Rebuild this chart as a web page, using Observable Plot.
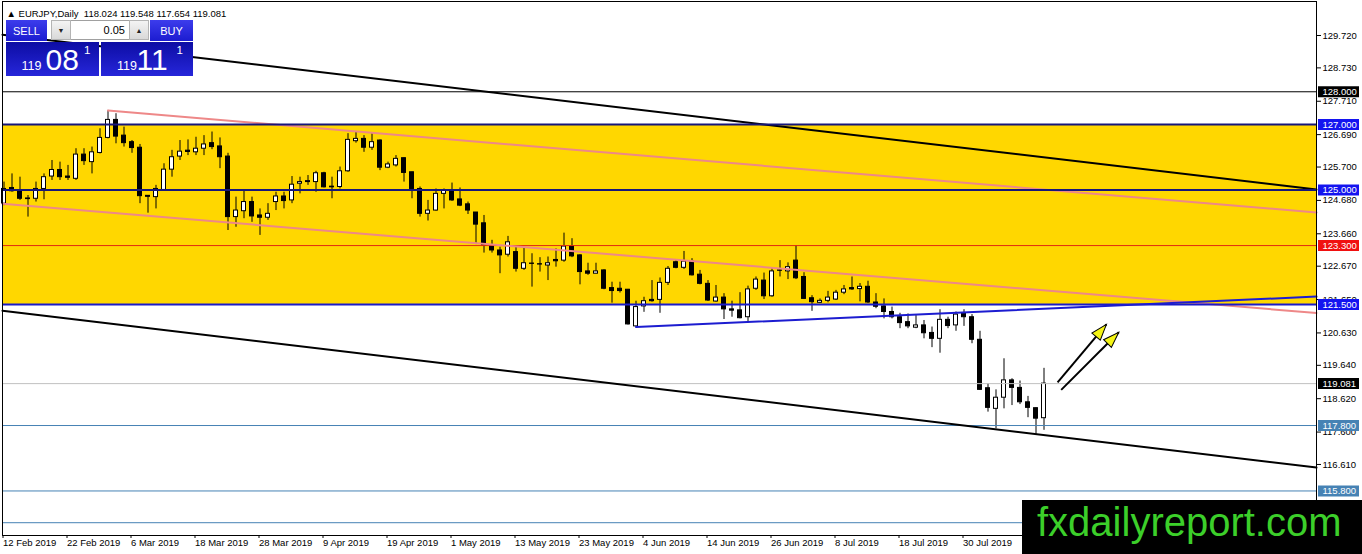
<!DOCTYPE html>
<html>
<head>
<meta charset="utf-8">
<script src="https://cdn.jsdelivr.net/npm/d3@7"></script>
<script src="https://cdn.jsdelivr.net/npm/@observablehq/plot@0.6"></script>
<style>
  body { margin: 0; background: #fff; }
  #wrap { position: relative; width: 1362px; height: 554px; overflow: hidden; background: #fff; }
  #wrap svg { position: absolute; left: 0; top: 0; }
  .ov { position: absolute; box-sizing: border-box; font-family: 'Liberation Sans', Arial, sans-serif; }
  .btn { background: linear-gradient(#3c3cec, #1c1cd0); color: #fff; font-size: 11px;
         display: flex; align-items: center; justify-content: center; }
  .price { background: linear-gradient(#0d0da4, #2626da); color: #fff; }
  .price span { position: absolute; line-height: 1; white-space: nowrap; }
  .spin { background: #fff; border: 1px solid #a0a0a0; }
  .sb { position: absolute; top: -1px; bottom: -1px; width: 20px; background: linear-gradient(#f4f4f4, #d9d9d9);
        border: 1px solid #b4b4b4; box-sizing: border-box; font-size: 7px; color: #222;
        display: flex; align-items: center; justify-content: center; }
  .inp { position: absolute; left: 20px; right: 20px; top: 0; bottom: 0; text-align: right;
         font-size: 11px; line-height: 18px; padding-right: 3px; color: #000; }
  #wm { left: 1022px; top: 500px; width: 340px; height: 54px; background: #000; }
  #wm span { position: absolute; left: 15px; top: 2px; font-size: 40px; line-height: 1; color: #3ccf2a; white-space: nowrap; }
</style>
</head>
<body>
<div id="wrap"></div>
<script>
// ---------------- data ----------------
const header = "\u25B2 EURJPY,Daily  118.024 119.548 117.654 119.081";
const bidPrice = "119.081";
const askPrice = "119.111";
const lotSize = "0.05";

// daily candles, 12 Feb 2019 (index 0) .. 13 Aug 2019 (index 130)
const opens = [124.58,125.06,124.98,124.74,124.73,125.03,125.41,125.61,125.41,125.34,
126.08,125.85,126.13,126.59,127.14,126.66,126.46,126.29,124.82,124.78,
125.00,125.62,126.02,126.20,126.15,126.26,126.43,126.33,126.02,124.17,
124.35,124.63,124.22,124.15,124.63,124.80,124.68,125.19,125.24,125.24,
125.51,125.08,125.09,125.57,126.49,126.56,126.29,126.51,125.68,125.75,
125.97,125.54,125.03,124.27,124.37,124.88,124.98,124.71,124.56,124.31,
123.98,123.30,123.15,123.02,123.10,122.59,122.75,122.73,122.69,122.86,
122.84,123.27,123.00,122.51,122.44,122.54,122.00,121.98,121.95,120.83,
121.44,121.64,121.64,122.16,122.79,122.62,122.81,122.41,122.13,121.59,
121.71,121.35,121.32,121.11,121.98,122.23,121.75,122.54,122.51,122.84,
122.34,121.69,121.55,121.61,121.65,121.86,122.00,121.97,122.04,121.56,
121.44,121.27,121.11,120.96,120.79,120.86,120.63,120.45,121.03,120.86,
121.23,121.11,120.42,118.94,118.31,118.65,119.18,118.95,118.51,118.33,
118.024];
const highs = [125.24,125.49,125.39,124.83,125.24,125.49,125.90,125.85,125.75,126.26,
126.26,126.31,126.87,127.43,127.33,126.92,126.51,126.39,124.83,125.14,
125.80,126.21,126.51,126.53,126.61,126.66,126.77,126.59,126.12,124.78,
124.98,124.78,124.42,124.58,124.93,124.93,125.41,125.39,125.44,125.57,
125.54,125.39,125.70,126.72,126.77,126.66,126.72,126.53,125.85,126.05,
125.98,125.54,125.09,124.68,125.03,125.03,125.21,125.06,124.63,124.31,
124.22,123.46,123.25,123.58,123.25,123.23,123.05,122.93,122.95,123.20,
123.68,123.51,123.02,122.76,122.76,122.56,122.18,122.18,121.96,121.60,
121.72,122.23,122.31,122.66,122.86,123.12,122.90,122.54,122.23,122.08,
121.83,121.60,121.86,122.06,122.34,122.46,122.59,122.84,122.77,123.30,
122.47,121.77,121.67,121.90,121.93,122.08,122.34,122.14,122.21,121.83,
121.67,121.42,121.23,121.21,121.16,121.01,120.81,121.34,121.11,121.27,
121.34,121.19,120.68,119.08,118.89,119.84,119.23,119.16,118.69,118.34,
119.548];
const lows = [124.52,124.93,124.68,124.17,124.63,124.70,125.29,125.29,125.29,125.29,
125.75,125.49,126.10,126.56,126.41,126.31,126.12,124.58,124.29,124.42,
124.98,125.39,125.90,126.05,126.05,126.05,126.23,125.65,123.76,123.86,
124.12,124.01,123.61,124.07,124.37,124.42,124.58,124.88,125.14,124.93,
125.06,124.73,125.03,125.54,126.43,126.15,126.21,125.59,125.65,125.70,
125.24,124.73,124.17,124.05,124.35,124.42,124.65,124.49,124.25,123.33,
123.07,123.07,122.44,122.95,122.49,122.54,122.03,122.49,122.23,122.64,
122.79,122.93,122.10,122.39,122.44,121.95,121.54,121.85,120.87,120.81,
121.26,121.57,121.23,122.08,122.59,122.57,122.37,122.10,121.59,121.57,
121.04,121.11,121.06,120.94,121.93,121.65,121.72,122.34,122.26,122.26,
121.65,121.29,121.53,121.55,121.62,121.80,121.93,121.58,121.53,121.37,
121.06,121.06,120.76,120.76,120.76,120.45,120.18,120.01,120.76,120.68,
120.83,120.30,118.87,118.21,117.70,118.31,118.41,118.44,118.04,117.53,
117.654];
const closes = [125.03,124.96,124.73,124.72,125.03,125.39,125.61,125.39,125.37,126.08,
125.88,126.15,126.59,127.14,126.63,126.43,126.28,124.81,124.79,125.03,
125.62,126.00,126.17,126.16,126.26,126.39,126.31,126.00,124.17,124.37,
124.63,124.19,124.15,124.27,124.80,124.66,125.16,125.24,125.27,125.51,
125.08,125.10,125.57,126.53,126.56,126.29,126.46,125.68,125.78,125.95,
125.52,125.03,124.27,124.37,124.88,124.98,124.68,124.52,124.37,123.94,
123.30,123.15,123.00,123.40,122.59,122.76,122.74,122.72,122.76,122.82,
123.27,122.97,122.49,122.44,122.51,121.98,121.91,121.91,120.89,121.42,
121.60,121.60,122.16,122.59,122.62,122.81,122.39,122.13,121.62,121.71,
121.35,121.31,121.08,121.96,122.26,121.75,122.51,122.53,122.64,122.30,
121.67,121.57,121.61,121.71,121.86,121.96,121.96,122.04,121.56,121.43,
121.27,121.11,120.93,120.83,120.86,120.62,120.45,121.03,120.84,121.19,
121.11,120.42,118.89,118.34,118.65,119.18,118.95,118.51,118.34,118.01,
119.081];

const dateTickIndex = [0, 8, 16, 24, 32, 40, 48, 56, 64, 72, 80, 88, 96, 104, 112, 120];
const dateTickLabels = ["12 Feb 2019","22 Feb 2019","6 Mar 2019","18 Mar 2019","28 Mar 2019",
  "9 Apr 2019","19 Apr 2019","1 May 2019","13 May 2019","23 May 2019","4 Jun 2019",
  "14 Jun 2019","26 Jun 2019","8 Jul 2019","18 Jul 2019","30 Jul 2019"];
const priceTicks = [129.72, 128.73, 127.71, 126.69, 125.70, 124.68, 123.66, 122.67,
  121.65, 120.63, 119.64, 118.62, 117.60, 116.61];

// horizontal levels
const blackLevels = [128.0];
const navyLevels = [127.0, 125.0];
const redLevels = [123.3];
const blueLevels = [121.5];
const lastPriceLevel = [119.081];
const steelLevels = [117.8, 115.8, 114.83];
const steelLabelled = [117.8, 115.8];
const bandTop = 127.0, bandBottom = 121.5;

// trend lines (bar index, price)
const upperBlackLine = [{i: -0.19, p: 129.744}, {i: 164.06, p: 125.013}];
const lowerBlackLine = [{i: -0.19, p: 121.309}, {i: 164.06, p: 116.517}];
const upperPinkLine = [{i: 13, p: 127.43}, {i: 164.06, p: 124.31}];
const lowerPinkLine = [{i: -0.19, p: 124.579}, {i: 164.06, p: 121.239}];
const blueSupportLine = [{i: 79, p: 120.81}, {i: 164.06, p: 121.74}];

// arrows (bar index, price)
const arrowFrom = [{i: 131.7, p: 119.12}, {i: 132.15, p: 118.89}];
const arrowTo = [{i: 137.8, p: 120.89}, {i: 139.35, p: 120.65}];

// ---------------- build ----------------
const candles = opens.map((o, k) => ({i: k, o, h: highs[k], l: lows[k], c: closes[k]}));
const upCandles = candles.filter(d => d.c >= d.o);
const downCandles = candles.filter(d => d.c < d.o);
const arrows = arrowFrom.map((f, k) => ({k, i1: f.i, p1: f.p, i2: arrowTo[k].i, p2: arrowTo[k].p}));
const dateLabelOf = new Map(dateTickIndex.map((v, k) => [v, dateTickLabels[k]]));
const fmt3 = d3.format(".3f");

const FONT = "'Liberation Sans', Arial, sans-serif";
const common = {
  width: 1362, height: 554,
  marginLeft: 2, marginRight: 46, marginTop: 1, marginBottom: 19,
  x: {type: "linear", domain: [-0.1875, 164.0625], label: null},
  y: {type: "linear", domain: [114.439, 130.759], label: null},
  style: {fontFamily: FONT, fontSize: "9.5px", background: "transparent", color: "black", overflow: "visible"}
};

const labelBox = {draw(ctx) { ctx.rect(1.5, -5.5, 41, 11); }};
const headShape = {draw(ctx, l, r) { ctx.moveTo(0, -l); ctx.lineTo(r, 0); ctx.lineTo(-r, 0); ctx.closePath(); }};

function trend(data, stroke, w) {
  return Plot.line(data, {x: "i", y: "p", stroke, strokeWidth: w});
}
function levelLabels(values, bg) {
  return [
    Plot.dot(values, {y: d => d, frameAnchor: "right", symbol: labelBox, fill: bg, stroke: "none"}),
    Plot.text(values, {y: d => d, text: d => fmt3(d), frameAnchor: "right", dx: 6, textAnchor: "start",
      fill: "white", fontSize: 9.5})
  ];
}

function buildMarks(angleOf) {
  const marks = [
    Plot.rect([{t: bandTop, b: bandBottom}], {y1: "b", y2: "t", fill: "#ffd700"}),
    // candles
    Plot.ruleX(candles, {x: "i", y1: "l", y2: "h", stroke: "black", strokeWidth: 1}),
    Plot.rect(upCandles, {x1: d => d.i - 0.5, x2: d => d.i + 0.5, y1: "o", y2: "c",
      insetLeft: 2, insetRight: 2, fill: "white", stroke: "black", strokeWidth: 1}),
    Plot.rect(downCandles, {x1: d => d.i - 0.5, x2: d => d.i + 0.5, y1: "o", y2: "c",
      insetLeft: 2, insetRight: 2, fill: "black", stroke: "black", strokeWidth: 1}),
    // horizontal levels
    Plot.ruleY(steelLevels, {y: d => d, stroke: "#4682b4", strokeWidth: 1}),
    Plot.ruleY(lastPriceLevel, {y: d => d, stroke: "#c0c0c0", strokeWidth: 1}),
    Plot.ruleY(blackLevels, {y: d => d, stroke: "black", strokeWidth: 1}),
    Plot.ruleY(redLevels, {y: d => d, stroke: "#e02a10", strokeWidth: 1}),
    // trend lines
    trend(upperPinkLine, "#ee8888", 2),
    trend(lowerPinkLine, "#ee8888", 2),
    trend(upperBlackLine, "black", 2),
    trend(lowerBlackLine, "black", 2),
    Plot.ruleY(navyLevels, {y: d => d, stroke: "#16167a", strokeWidth: 2}),
    Plot.ruleY(blueLevels, {y: d => d, stroke: "#1a1ac8", strokeWidth: 2}),
    trend(blueSupportLine, "#1c1cd0", 2),
    // arrows
    Plot.link(arrows, {x1: "i1", y1: "p1", x2: "i2", y2: "p2", stroke: "black", strokeWidth: 2})
  ];
  if (angleOf) {
    marks.push(Plot.vector(arrows, {x: "i2", y: "p2", rotate: d => angleOf(d), length: 16, r: 5.5,
      anchor: "end", shape: headShape, fill: "#f4f414", stroke: "black", strokeWidth: 1, strokeLinejoin: "miter"}));
  }
  marks.push(
    Plot.frame({stroke: "black"}),
    Plot.axisY(priceTicks, {anchor: "right", tickSize: 4, tickPadding: 2, tickFormat: fmt3, fontSize: 9.5}),
    Plot.axisX(dateTickIndex, {anchor: "bottom", tickSize: 3, tickPadding: 1, tickFormat: d => dateLabelOf.get(d),
      textAnchor: "start", dx: -1, fontSize: 9.5}),
    ...levelLabels(blackLevels, "black"),
    ...levelLabels(navyLevels, "#1414f0"),
    ...levelLabels(redLevels, "#f01010"),
    ...levelLabels(blueLevels, "#1414f0"),
    ...levelLabels(lastPriceLevel, "black"),
    ...levelLabels(steelLabelled, "#4682b4"),
    Plot.text([header], {text: d => d, frameAnchor: "top-left", dx: 4, dy: 9, textAnchor: "start", fontSize: 9.5, fill: "black"})
  );
  return marks;
}

const probe = Plot.plot({...common, marks: buildMarks(null)});
const sx = probe.scale("x"), sy = probe.scale("y");
const angleOf = d => {
  const dx = sx.apply(d.i2) - sx.apply(d.i1);
  const dy = sy.apply(d.p2) - sy.apply(d.p1);
  return Math.atan2(dx, -dy) * 180 / Math.PI;
};
const chart = Plot.plot({...common, marks: buildMarks(angleOf)});
const wrap = document.getElementById("wrap");
wrap.appendChild(chart);

// ---------------- trading panel overlay ----------------
function el(cls, style, html) {
  const e = document.createElement("div");
  e.className = "ov " + cls;
  e.setAttribute("style", style);
  if (html != null) e.innerHTML = html;
  wrap.appendChild(e);
  return e;
}
el("btn", "left:6px;top:20px;width:41px;height:21px;", "SELL");
const spin = el("spin", "left:51px;top:20px;width:98px;height:20px;");
spin.innerHTML = '<div class="sb" style="left:-1px">&#9660;</div><div class="inp">' + lotSize +
  '</div><div class="sb" style="right:-1px">&#9650;</div>';
el("btn", "left:150px;top:20px;width:43px;height:21px;", "BUY");

function priceBox(left, width, price, pos) {
  const [big, frac] = price.split(".");
  const box = el("price", `left:${left}px;top:42px;width:${width}px;height:34px;`);
  box.innerHTML =
    `<span style="left:${pos[0]}px;top:17.5px;font-size:12.5px">${big}</span>` +
    `<span style="left:${pos[1]}px;top:3px;font-size:30px">${frac.slice(0, 2)}</span>` +
    `<span style="left:${pos[2]}px;top:3.3px;font-size:11.5px">${frac.slice(2)}</span>`;
}
priceBox(6, 93, bidPrice, [15.5, 39.5, 78]);
priceBox(101, 92, askPrice, [16, 35.5, 75.5]);

const wm = el("", "left:1022px;top:500px;width:340px;height:54px;background:#000;");
wm.id = "wm";
wm.innerHTML = "<span>fxdailyreport.com</span>";
</script>
</body>
</html>
